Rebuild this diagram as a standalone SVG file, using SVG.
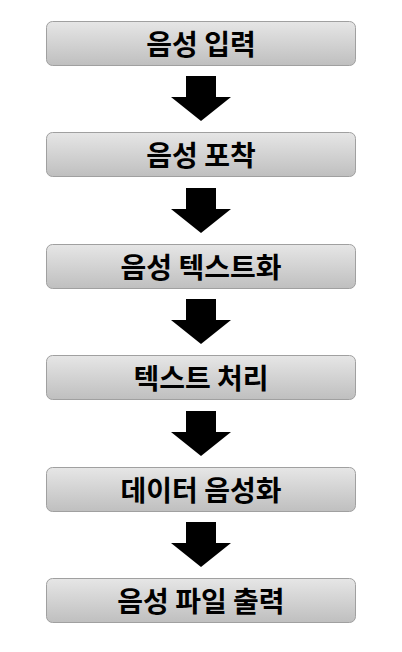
<svg xmlns="http://www.w3.org/2000/svg" width="402" height="652" viewBox="0 0 402 652">
<defs>
<linearGradient id="g" x1="0" y1="0" x2="0" y2="1">
<stop offset="0" stop-color="#e6e6e6"/>
<stop offset="1" stop-color="#bfbfbf"/>
</linearGradient>
<path id="arr" d="M186,0 H216 V21 H231 L201,45 L171,21 H186 Z" fill="#000"/>
</defs>
<style>
.box{fill:url(#g);stroke:#a0a0a0;stroke-width:1}
.t{font-family:"Noto Sans CJK KR","Noto Sans",sans-serif;font-weight:bold;font-size:28px;fill:#000;text-anchor:middle;dominant-baseline:central}
</style>
<rect width="402" height="652" fill="#fff"/>
<g id="connectors">
<use href="#arr" y="76"/>
<use href="#arr" y="188"/>
<use href="#arr" y="299"/>
<use href="#arr" y="411"/>
<use href="#arr" y="522"/>
</g>
<g id="n1"><rect class="box" x="46.5" y="21.5" width="309" height="44" rx="6"/><text class="t" x="201" y="43">음성 입력</text></g>
<g id="n2"><rect class="box" x="46.5" y="132.5" width="309" height="44" rx="6"/><text class="t" x="201" y="154">음성 포착</text></g>
<g id="n3"><rect class="box" x="46.5" y="244.5" width="309" height="44" rx="6"/><text class="t" x="201" y="266">음성 텍스트화</text></g>
<g id="n4"><rect class="box" x="46.5" y="355.5" width="309" height="44" rx="6"/><text class="t" x="201" y="377">텍스트 처리</text></g>
<g id="n5"><rect class="box" x="46.5" y="467.5" width="309" height="44" rx="6"/><text class="t" x="201" y="489">데이터 음성화</text></g>
<g id="n6"><rect class="box" x="46.5" y="578.5" width="309" height="44" rx="6"/><text class="t" x="201" y="600">음성 파일 출력</text></g>
</svg>
